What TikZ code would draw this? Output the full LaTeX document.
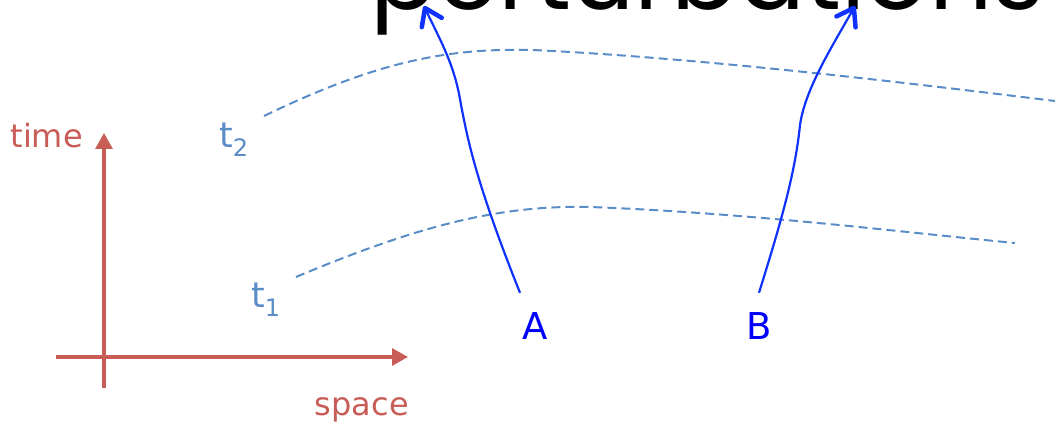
\documentclass[tikz,border=0pt]{standalone}
\usepackage{fontspec}
\setmainfont{DejaVu Sans}
\newfontfamily\titlefont{Poppins}
\usepackage{xcolor}
\usetikzlibrary{arrows.meta, positioning}

\definecolor{axisred}{RGB}{200,92,86}
\definecolor{frontblue}{RGB}{90,140,200}
\definecolor{rayblue}{RGB}{15,50,255}
\definecolor{pointblue}{RGB}{0,0,255}

\newcommand{\tlab}[1]{t\raisebox{-9pt}{\fontsize{24}{24}\selectfont #1}}

\begin{document}
\begin{tikzpicture}[
  x=1pt, y=-1pt,
  axis/.style={draw=axisred, line width=3.2pt,
               -{Triangle[length=16pt, width=17pt]}},
  axislbl/.style={text=axisred, inner sep=0pt,
                  font=\fontsize{32}{32}\selectfont},
  front/.style={draw=frontblue, line width=2pt,
                dash pattern=on 9pt off 5pt},
  frontlbl/.style={text=frontblue, inner sep=0pt,
                   font=\fontsize{35}{35}\selectfont},
  ray/.style={draw=rayblue, line width=2.2pt,
              -{Straight Barb[length=16pt, width=22pt, line width=4.5pt, round]}},
  point/.style={text=pointblue, inner sep=0pt,
                font=\fontsize{37}{37}\selectfont},
  title/.style={inner sep=0pt, font=\titlefont\fontsize{99}{99}\selectfont}
]
\clip (0,0) rectangle (1055,427);

% axes
\coordinate (ybot)   at (104,388);
\coordinate (ytop)   at (104,133);
\coordinate (xleft)  at (56,357);
\coordinate (xright) at (408,357);
\draw[axis] (ybot) -- (ytop);
\draw[axis] (xleft) -- (xright);
\node[axislbl, anchor=base east] (time)  at (83,148)  {time};
\node[axislbl, anchor=base east] (space) at (409,416) {space};

% title, cut by the frame
\node[title, anchor=base west] (pert) at (370,10) {perturbations};

% wave fronts
\node[frontlbl, anchor=base west] (t2) at (219,148) {\tlab{2}};
\node[frontlbl, anchor=base west] (t1) at (251,308) {\tlab{1}};
\draw[front] (264,116) .. controls (380,60) and (450,48) .. (533,50)
  .. controls (700,58) and (900,82) .. (1055,101);
\draw[front] (296,277) .. controls (420,225) and (500,205) .. (590,207)
  .. controls (750,213) and (900,232) .. (1015,243);

% points and their rays
\node[point, anchor=base] (A) at (535,340) {A};
\node[point, anchor=base] (B) at (759,340) {B};
\coordinate (footA) at ([xshift=-15pt,yshift=20pt]A.north);
\coordinate (footB) at ([yshift=20pt]B.north);
\coordinate (tipA) at (424,6);
\coordinate (tipB) at (855,6);
\draw[ray] (footA) .. controls (475,180) and (468,140) .. (461,105)
  .. controls (455,65) and (440,40) .. (tipA);
\draw[ray] (footB) .. controls (780,225) and (795,175) .. (800,125)
  .. controls (805,90) and (830,50) .. (tipB);
\end{tikzpicture}
\end{document}
